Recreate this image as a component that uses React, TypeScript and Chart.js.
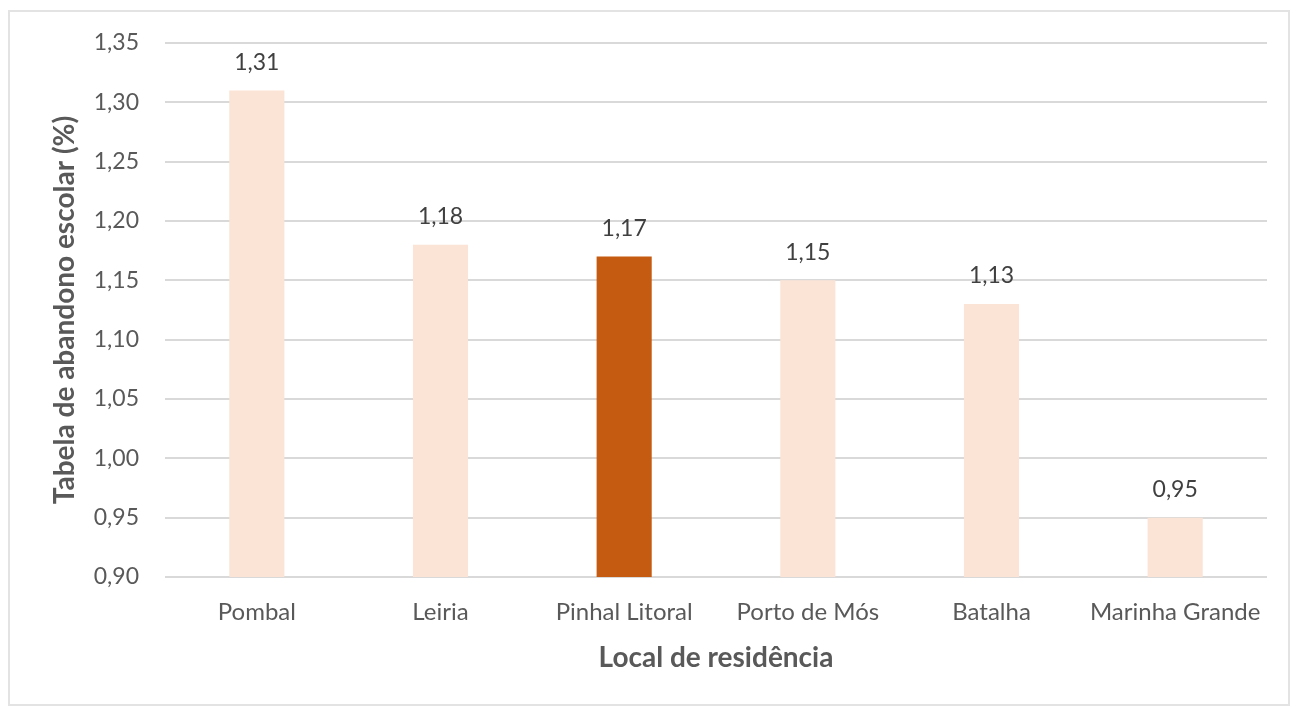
import React, { useEffect, useRef } from "react";
import { Chart, registerables } from "chart.js";

Chart.register(...registerables);

const categories = ["Pombal", "Leiria", "Pinhal Litoral", "Porto de Mós", "Batalha", "Marinha Grande"];
const values = [1.31, 1.18, 1.17, 1.15, 1.13, 0.95];
const barColors = ["#FBE3D6", "#FBE3D6", "#C55A11", "#FBE3D6", "#FBE3D6", "#FBE3D6"];
const yTitle = "Tabela de abandono escolar (%)";
const xTitle = "Local de residência";

const FONT = "Lato, 'Open Sans', sans-serif";
const fmt = (v: number) => v.toFixed(2).replace(".", ",");

const labelPlugin = {
  id: "barLabels",
  afterDatasetsDraw(chart: any) {
    const ctx = chart.ctx;
    const meta = chart.getDatasetMeta(0);
    ctx.save();
    ctx.font = `23px ${FONT}`;
    ctx.fillStyle = "#404040";
    ctx.textAlign = "center";
    ctx.textBaseline = "middle";
    meta.data.forEach((el: any, i: number) => {
      ctx.fillText(fmt(values[i]), el.x, el.y - 28);
    });
    ctx.restore();
  },
};

export default function App() {
  const ref = useRef<HTMLCanvasElement>(null);
  useEffect(() => {
    if (!ref.current) return;
    const chart = new Chart(ref.current, {
      type: "bar",
      data: {
        labels: categories,
        datasets: [
          {
            data: values,
            backgroundColor: barColors,
            categoryPercentage: 1,
            barPercentage: 0.3,
          },
        ],
      },
      options: {
        animation: false,
        responsive: true,
        maintainAspectRatio: false,
        layout: { padding: { left: 38, right: 21, top: 31, bottom: 29 } },
        plugins: { legend: { display: false }, tooltip: { enabled: false } },
        scales: {
          y: {
            min: 0.9,
            max: 1.35,
            afterFit: (s: any) => {
              s.width = 117;
              s.paddingTop = 0;
              s.paddingBottom = 0;
            },
            ticks: {
              stepSize: 0.05,
              callback: (v: any) => fmt(Number(v)),
              color: "#595959",
              font: { family: FONT, size: 23 },
              padding: 26,
            },
            grid: { color: "#D9D9D9", lineWidth: 2, drawTicks: false },
            border: { display: false },
            title: {
              display: true,
              text: yTitle,
              color: "#595959",
              font: { family: FONT, size: 28, weight: "bold" },
              padding: { top: 0, bottom: 0 },
            },
          },
          x: {
            afterFit: (s: any) => {
              s.height = 98;
              s.paddingLeft = 0;
              s.paddingRight = 0;
            },
            ticks: {
              color: "#595959",
              font: { family: FONT, size: 24 },
              padding: 21,
            },
            grid: { display: false, drawTicks: false },
            border: { display: false },
            title: {
              display: true,
              text: xTitle,
              color: "#595959",
              font: { family: FONT, size: 28, weight: "bold" },
              padding: { top: 0, bottom: 0 },
            },
          },
        },
      },
      plugins: [labelPlugin],
    });
    return () => chart.destroy();
  }, []);

  return (
    <div
      style={{
        width: 1282,
        height: 696,
        marginTop: 2,
        border: "2px solid #E3E3E3",
        boxSizing: "border-box",
        background: "#fff",
        position: "relative",
      }}
    >
      <canvas ref={ref} />
    </div>
  );
}
